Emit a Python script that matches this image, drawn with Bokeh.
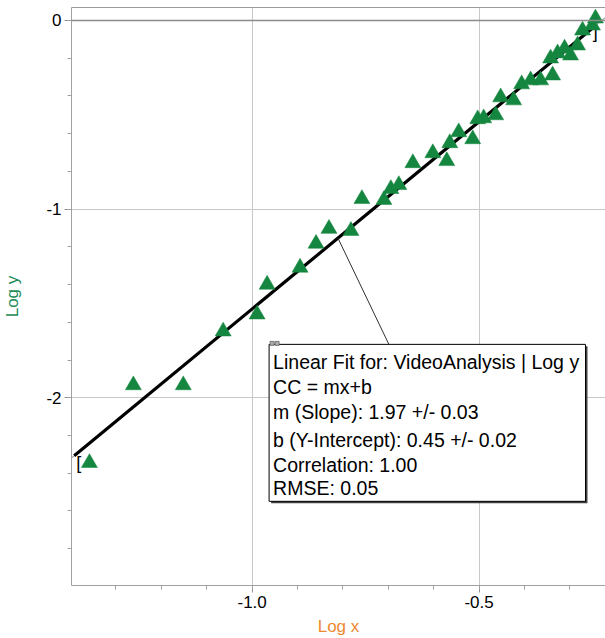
import numpy as np
from bokeh.plotting import figure
from bokeh.models import (FixedTicker, PrintfTickFormatter, Span,
                          LinearAxis, ColumnDataSource, Range1d)
from bokeh.core.properties import value
from bokeh.embed import file_html
from bokeh.resources import INLINE

# ---------------- data ----------------
log_x = [-1.3585, -1.2617, -1.1517, -1.0638, -0.989, -0.967, -0.8944, -0.8592,
         -0.8307, -0.7823, -0.7581, -0.7097, -0.6943, -0.6767, -0.6459, -0.6019,
         -0.5711, -0.5645, -0.5448, -0.5140, -0.5030, -0.4898, -0.4634, -0.4524,
         -0.4238, -0.4062, -0.3864, -0.3644, -0.3424, -0.3380, -0.3270, -0.3116,
         -0.2984, -0.2830, -0.2720, -0.2501, -0.2435]
log_y = [-2.345, -1.933, -1.933, -1.648, -1.558, -1.400, -1.310, -1.183,
         -1.104, -1.115, -0.946, -0.951, -0.893, -0.872, -0.756, -0.703,
         -0.745, -0.650, -0.592, -0.629, -0.523, -0.518, -0.502, -0.407,
         -0.423, -0.338, -0.317, -0.317, -0.201, -0.291, -0.174, -0.148,
         -0.185, -0.132, -0.053, -0.026, 0.011]

fit_range = [-1.392, -0.243]        # bracketed fit region
fit_slope = 1.985
fit_intercept = 0.456
fit_lines = ["Linear Fit for: VideoAnalysis | Log y",
             "CC = mx+b",
             "m (Slope): 1.97 +/- 0.03",
             "b (Y-Intercept): 0.45 +/- 0.02",
             "Correlation: 1.00",
             "RMSE: 0.05"]

x_major = [-1.0, -0.5]
x_minor = [-1.4, -1.3, -1.2, -1.1, -1.0, -0.9, -0.8, -0.7, -0.6, -0.5, -0.4, -0.3]
y_major = [0, -1, -2]
y_minor = [0.0, -0.2, -0.4, -0.6, -0.8, -1.0, -1.2, -1.4, -1.6, -1.8, -2.0,
           -2.2, -2.4, -2.6, -2.8]

X_RANGE = (-1.398, -0.2214)
Y_RANGE = (-2.995, 0.0686)
FRAME_W, FRAME_H = 535.0, 580.0

GREEN = "#15863f"
FONT = "Liberation Sans"

# ---------------- figure ----------------
p = figure(width=605, height=638, output_backend="svg", toolbar_location=None,
           x_range=Range1d(*X_RANGE), y_range=Range1d(*Y_RANGE),
           min_border_left=70, min_border_right=0, min_border_top=7,
           min_border_bottom=51, x_axis_label="Log x", y_axis_label="Log y")
p.outline_line_color = None
p.background_fill_color = "white"
p.border_fill_color = "white"

for ax, major, minor, fmt in ((p.xaxis[0], x_major, x_minor, "%.1f"),
                              (p.yaxis[0], y_major, y_minor, "%d")):
    ax.ticker = FixedTicker(ticks=major, minor_ticks=minor)
    ax.formatter = PrintfTickFormatter(format=fmt)
    ax.axis_line_color = "#a0a0a0"
    ax.major_tick_line_color = "#909090"
    ax.minor_tick_line_color = "#a0a0a0"
    ax.major_tick_out = 7
    ax.major_tick_in = 0
    ax.minor_tick_out = 4
    ax.minor_tick_in = 0
    ax.major_label_text_font = FONT
    ax.major_label_text_font_size = "17px"
    ax.major_label_text_color = "black"
    ax.major_label_standoff = 3
    ax.axis_label_text_font = FONT
    ax.axis_label_text_font_style = "normal"
    ax.axis_label_text_font_size = "17px"

p.xaxis.axis_label_text_color = "#ec8a2e"
p.xaxis.axis_label_standoff = 6
p.yaxis.axis_label_text_color = "#1b8a55"
p.yaxis.axis_label_standoff = 21
p.yaxis.major_label_orientation = "horizontal"

top_axis = LinearAxis(ticker=FixedTicker(ticks=[]), axis_line_color="#9a9a9a",
                      major_tick_out=0, minor_tick_out=0, major_tick_in=0,
                      minor_tick_in=0, major_label_text_font_size="0px")
p.add_layout(top_axis, "above")

p.xgrid.grid_line_color = "#c8c8c8"
p.ygrid.grid_line_color = "#c8c8c8"
p.add_layout(Span(location=0, dimension="width", line_color="#8c8c8c", line_width=1.5))

px_x = (X_RANGE[1] - X_RANGE[0]) / FRAME_W
px_y = (Y_RANGE[1] - Y_RANGE[0]) / FRAME_H

# ---------------- fit line ----------------
full_x = np.array(X_RANGE)
p.line(full_x, fit_slope * full_x + fit_intercept, line_color="#808080", line_width=1)
fx = np.array(fit_range)
fy = fit_slope * fx + fit_intercept
p.line(fx, fy, line_color="black", line_width=3.2)

p.text(x=[fx[0]], y=[fy[0]], text=["["], text_font=value(FONT), text_font_size="18px",
       text_align="left", text_baseline="top", x_offset=2, y_offset=-3, text_color="black")
p.text(x=[fx[1]], y=[fy[1]], text=["]"], text_font=value(FONT), text_font_size="18px",
       text_align="right", text_baseline="top", x_offset=2, y_offset=-3, text_color="black")

# ---------------- data points ----------------
p.scatter(log_x, log_y, marker="triangle", size=16, fill_color=GREEN,
          line_color=GREEN, line_width=0.5)

# ---------------- fit annotation box ----------------
box_left, box_right, box_top, box_bottom = -0.9626, -0.2655, -1.7169, -2.5489

leader_x0 = -0.8109
leader_x1 = -0.6987
p.segment(x0=[leader_x0], y0=[fit_slope * leader_x0 + fit_intercept],
          x1=[leader_x1], y1=[box_top], line_color="#303030", line_width=1)

p.quad(left=[box_left + 2 * px_x], right=[box_right + 2 * px_x],
       top=[box_top - 2 * px_y], bottom=[box_bottom - 2 * px_y],
       fill_color="#404040", line_color=None)
p.quad(left=[box_left], right=[box_right], top=[box_top], bottom=[box_bottom],
       fill_color="white", line_color="black", line_width=1)
# little handle icon at the top-left corner of the box
p.quad(left=[box_left + 1 * px_x, box_left + 6 * px_x],
       right=[box_left + 5 * px_x, box_left + 10 * px_x],
       top=[box_top + 3 * px_y] * 2, bottom=[box_top - 1 * px_y] * 2,
       fill_color="#b0b0b0", line_color="#606060", line_width=0.8)

src = ColumnDataSource(dict(x=[box_left] * len(fit_lines), y=[box_top] * len(fit_lines),
                            t=fit_lines, dy=[18, 43, 67.5, 96, 121, 144]))
p.text(x="x", y="y", text="t", y_offset="dy", x_offset=4, source=src,
       text_font=value(FONT), text_font_size="19.5px", text_color="black",
       text_align="left", text_baseline="middle")

open("out.html", "w").write(file_html(p, INLINE))
